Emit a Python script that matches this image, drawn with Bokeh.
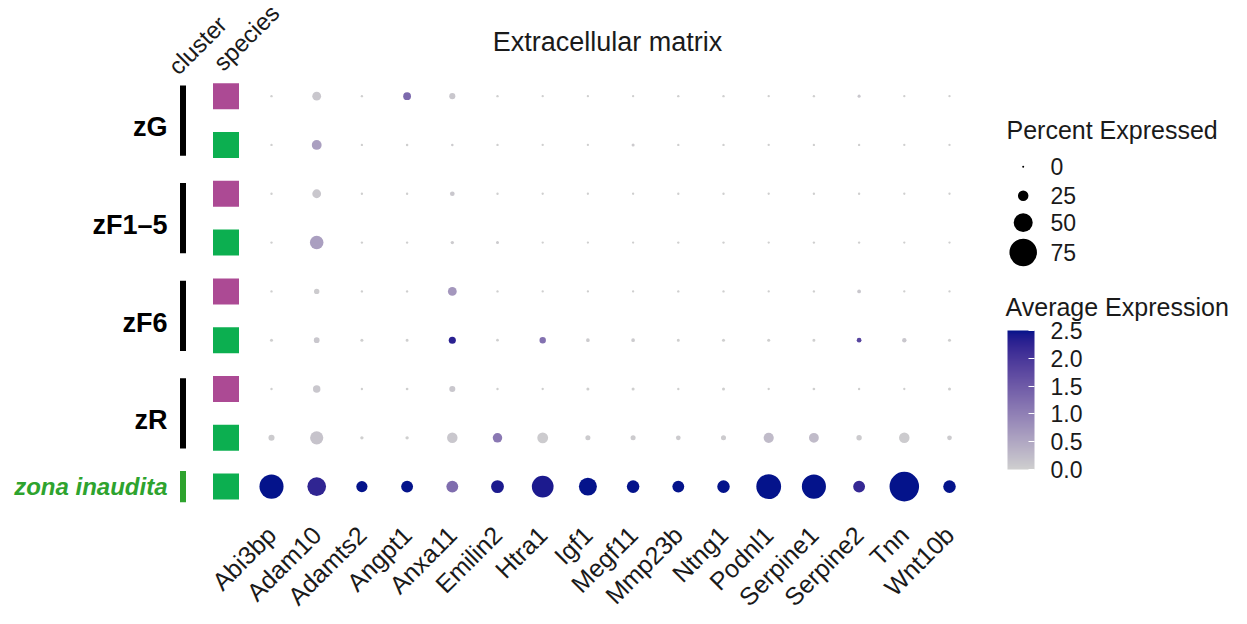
import math
from bokeh.plotting import figure
from bokeh.models import (Range1d, ColumnDataSource, LinearColorMapper, ColorBar,
                          FixedTicker, PrintfTickFormatter, LinearInterpolator)
from bokeh.core.properties import value
from bokeh.embed import file_html
from bokeh.resources import INLINE

# ---------------- data ----------------
genes = ["Abi3bp", "Adam10", "Adamts2", "Angpt1", "Anxa11", "Emilin2", "Htra1", "Igf1",
         "Megf11", "Mmp23b", "Ntng1", "Podnl1", "Serpine1", "Serpine2", "Tnn", "Wnt10b"]

# rows from top to bottom
row_cluster = ["zG", "zG", "zF1–5", "zF1–5", "zF6", "zF6", "zR", "zR", "zona inaudita"]
row_species = ["sp1", "sp2", "sp1", "sp2", "sp1", "sp2", "sp1", "sp2", "sp2"]
clusters = ["zG", "zF1–5", "zF6", "zR", "zona inaudita"]

# percent expressed, one list per row
pct_zG_sp1   = [1, 20, 1, 17, 12, 1, 1, 1, 1, 1, 1, 1, 1, 3, 1, 1]
pct_zG_sp2   = [1, 23, 1, 1.5, 1.5, 1, 1, 1, 3, 1, 1, 1, 1, 1, 1, 1]
pct_zF15_sp1 = [1, 20, 1, 1, 8, 1, 1, 1, 1, 1, 1, 1, 1, 1, 1, 1]
pct_zF15_sp2 = [1, 34, 1, 1, 4, 3, 1, 1, 1, 1, 1, 1, 1, 1, 1, 1]
pct_zF6_sp1  = [1, 10, 1, 1, 20, 1, 1, 1, 1, 1, 1, 1, 1, 5, 1, 1]
pct_zF6_sp2  = [3, 11, 3, 3, 15, 2, 13, 5, 5, 3, 3, 3, 3, 8, 7, 3]
pct_zR_sp1   = [1, 16, 1, 2, 12, 1, 1, 3, 3, 1, 3, 1, 2, 1, 1, 3]
pct_zR_sp2   = [12, 33, 4, 4, 25, 22, 26, 9, 9, 8, 9, 24, 23, 10, 25, 8]
pct_zi_sp2   = [65, 49, 27, 29, 29, 32, 58, 47, 31, 29, 31, 67, 65, 29, 81, 31]

# average expression (scaled, capped at 2.5), one list per row
avg_zG_sp1   = [0, 0.1, 0, 1.3, 0.1, 0, 0, 0, 0, 0, 0, 0, 0, 0.1, 0, 0]
avg_zG_sp2   = [0, 0.6, 0, 0, 0.05, 0, 0, 0, 0.05, 0, 0, 0, 0, 0, 0, 0]
avg_zF15_sp1 = [0, 0.1, 0, 0, 0.1, 0, 0, 0, 0, 0, 0, 0, 0, 0, 0, 0]
avg_zF15_sp2 = [0, 0.6, 0, 0, 0.05, 0.05, 0, 0, 0, 0, 0, 0, 0, 0, 0, 0]
avg_zF6_sp1  = [0, 0.05, 0, 0, 0.7, 0, 0, 0, 0, 0, 0, 0, 0, 0.1, 0, 0]
avg_zF6_sp2  = [0, 0.1, 0, 0, 2.3, 0, 1.2, 0.05, 0.05, 0, 0, 0, 0, 1.8, 0.1, 0]
avg_zR_sp1   = [0, 0.1, 0, 0, 0.1, 0, 0, 0, 0, 0, 0, 0, 0, 0, 0, 0]
avg_zR_sp2   = [0.05, 0.15, 0, 0, 0.1, 1.1, 0.05, 0.05, 0.05, 0.05, 0.05, 0.25, 0.25, 0.05, 0.05, 0.05]
avg_zi_sp2   = [2.5, 2.25, 2.5, 2.5, 1.25, 2.4, 2.4, 2.5, 2.5, 2.5, 2.5, 2.5, 2.5, 2.2, 2.5, 2.5]

pct_rows = [pct_zG_sp1, pct_zG_sp2, pct_zF15_sp1, pct_zF15_sp2, pct_zF6_sp1,
            pct_zF6_sp2, pct_zR_sp1, pct_zR_sp2, pct_zi_sp2]
avg_rows = [avg_zG_sp1, avg_zG_sp2, avg_zF15_sp1, avg_zF15_sp2, avg_zF6_sp1,
            avg_zF6_sp2, avg_zR_sp1, avg_zR_sp2, avg_zi_sp2]

legend_pct = [0, 25, 50, 75]
colorbar_ticks = [0.0, 0.5, 1.0, 1.5, 2.0, 2.5]

# ---------------- styles ----------------
FONT_NAME = "Liberation Sans"
FONT = value(FONT_NAME)
TXT = "#1a1a1a"
LOW_COL, HIGH_COL = "#CFCFCF", "#04138B"
species_colors = {"sp1": "#AC4A94", "sp2": "#0CAF50"}
ZI_GREEN = "#2EA32E"

# ---------------- colour scale (Lab interpolation, like ggplot) ----------------
def _hex_to_rgb(h):
    h = h.lstrip("#")
    return [int(h[i:i + 2], 16) / 255 for i in (0, 2, 4)]

def _lin(c):
    return c / 12.92 if c <= 0.04045 else ((c + 0.055) / 1.055) ** 2.4

def _unlin(c):
    c = max(0.0, min(1.0, c))
    return 12.92 * c if c <= 0.0031308 else 1.055 * c ** (1 / 2.4) - 0.055

WX, WY, WZ = 0.95047, 1.0, 1.08883

def _rgb_to_lab(rgb):
    r, g, b = [_lin(c) for c in rgb]
    X = 0.4124 * r + 0.3576 * g + 0.1805 * b
    Y = 0.2126 * r + 0.7152 * g + 0.0722 * b
    Z = 0.0193 * r + 0.1192 * g + 0.9505 * b
    def f(t):
        return t ** (1 / 3) if t > 0.008856 else 7.787 * t + 16 / 116
    fx, fy, fz = f(X / WX), f(Y / WY), f(Z / WZ)
    return [116 * fy - 16, 500 * (fx - fy), 200 * (fy - fz)]

def _lab_to_hex(lab):
    L, a, b = lab
    fy = (L + 16) / 116
    fx = fy + a / 500
    fz = fy - b / 200
    def finv(t):
        return t ** 3 if t ** 3 > 0.008856 else (t - 16 / 116) / 7.787
    X, Y, Z = WX * finv(fx), WY * finv(fy), WZ * finv(fz)
    r = 3.2406 * X - 1.5372 * Y - 0.4986 * Z
    g = -0.9689 * X + 1.8758 * Y + 0.0415 * Z
    bb = 0.0557 * X - 0.2040 * Y + 1.0570 * Z
    return "#" + "".join("%02x" % int(round(_unlin(c) * 255)) for c in (r, g, bb))

lab_lo, lab_hi = _rgb_to_lab(_hex_to_rgb(LOW_COL)), _rgb_to_lab(_hex_to_rgb(HIGH_COL))
palette = [_lab_to_hex([lo + (hi - lo) * i / 255 for lo, hi in zip(lab_lo, lab_hi)])
           for i in range(256)]
mapper = LinearColorMapper(palette=palette, low=0, high=2.5)
size_scale = LinearInterpolator(x=[0, 100], y=[2, 36])

# ---------------- geometry ----------------
W, H = 1247, 624
FRAME_H = 520
X0, DX = 271, 45.2     # px of first gene column, column spacing
Y0, DY = 96, 49        # px of top row, row spacing
NR = len(row_cluster)

def dx(px):
    return (px - X0) / DX

def dy(py):
    return (NR - 1) - (py - Y0) / DY

p = figure(width=W, height=H, output_backend="svg", toolbar_location=None,
           x_range=Range1d(dx(0), dx(W)), y_range=Range1d(dy(FRAME_H), dy(0)),
           y_axis_location=None, min_border_left=0, min_border_right=0,
           min_border_top=0, min_border_bottom=H - FRAME_H)
p.outline_line_color = None
p.xgrid.visible = False
p.ygrid.visible = False
p.background_fill_color = "white"

# ---------------- dots ----------------
xs, ys, pcts, avgs = [], [], [], []
for k in range(NR):
    for i, g in enumerate(genes):
        xs.append(i)
        ys.append(NR - 1 - k)
        pcts.append(pct_rows[k][i])
        avgs.append(avg_rows[k][i])
src = ColumnDataSource(dict(x=xs, y=ys, pct=pcts, avg=avgs))
p.scatter("x", "y", source=src, size={"field": "pct", "transform": size_scale},
          fill_color={"field": "avg", "transform": mapper}, line_color=None)

# ---------------- x axis ----------------
ax = p.xaxis[0]
ax.ticker = FixedTicker(ticks=list(range(len(genes))))
ax.major_label_overrides = {i: g for i, g in enumerate(genes)}
ax.major_label_orientation = math.pi / 4
ax.axis_line_color = None
ax.major_tick_line_color = None
ax.minor_tick_line_color = None
ax.major_label_standoff = 6
ax.major_label_text_font = FONT_NAME
ax.major_label_text_font_size = "25px"
ax.major_label_text_color = TXT

# ---------------- species squares ----------------
row_y = [NR - 1 - k for k in range(NR)]
p.scatter(x=[dx(225.5)] * NR, y=row_y, marker="square", size=26,
          fill_color=[species_colors[s] for s in row_species], line_color=None)

# ---------------- cluster bars & labels ----------------
bar_x, bar_y0, bar_y1, bar_col = [], [], [], []
lab_y = []
for c in clusters:
    yy = [row_y[k] for k in range(NR) if row_cluster[k] == c]
    ext = 0.22 if len(yy) > 1 else 0.32
    bar_x.append(dx(182.5))
    bar_y0.append(min(yy) - ext)
    bar_y1.append(max(yy) + ext)
    bar_col.append(ZI_GREEN if c == "zona inaudita" else "black")
    lab_y.append(sum(yy) / len(yy) - (0.14 if len(yy) > 1 else 0.0))
p.segment(x0=bar_x, y0=bar_y0, x1=bar_x, y1=bar_y1, line_width=6, line_color=bar_col)

p.text(x=[dx(167)] * 4, y=lab_y[:4], text=clusters[:4], text_align="right",
       text_baseline="middle", text_font=FONT, text_font_size="27px",
       text_font_style="bold", text_color="black")
p.text(x=[dx(167)], y=[lab_y[4]], text=[clusters[4]], text_align="right",
       text_baseline="middle", text_font=FONT, text_font_size="24px",
       text_font_style="bold italic", text_color=ZI_GREEN)

# column headers
p.text(x=[dx(172), dx(217)], y=[dy(70), dy(66)], text=["cluster", "species"],
       angle=math.pi / 4, text_align="left", text_baseline="alphabetic",
       text_font=FONT, text_font_size="24px", text_color=TXT)

# title
p.text(x=[dx(607)], y=[dy(42)], text=["Extracellular matrix"], text_align="center",
       text_baseline="middle", text_font=FONT, text_font_size="27px", text_color=TXT)

# ---------------- size legend ----------------
p.text(x=[dx(1006)], y=[dy(130)], text=["Percent Expressed"], text_align="left",
       text_baseline="middle", text_font=FONT, text_font_size="25px", text_color=TXT)
leg_py = [167, 196, 223, 253]
leg_src = ColumnDataSource(dict(x=[dx(1022.7)] * 4, y=[dy(v) for v in leg_py],
                                pct=legend_pct))
p.scatter("x", "y", source=leg_src, size={"field": "pct", "transform": size_scale},
          fill_color="black", line_color=None)
p.text(x=[dx(1050)] * 4, y=[dy(v) for v in leg_py], text=[str(v) for v in legend_pct],
       text_align="left", text_baseline="middle", text_font=FONT,
       text_font_size="23px", text_color=TXT)

# ---------------- colour legend ----------------
p.text(x=[dx(1005)], y=[dy(308)], text=["Average Expression"], text_align="left",
       text_baseline="middle", text_font=FONT, text_font_size="25px", text_color=TXT)
cb = ColorBar(color_mapper=mapper, ticker=FixedTicker(ticks=colorbar_ticks),
              formatter=PrintfTickFormatter(format="%.1f"),
              location=(1007, FRAME_H - 471), width=27, height=139,
              major_label_text_font=FONT_NAME, major_label_text_font_size="23px",
              major_label_text_color=TXT, label_standoff=16,
              major_tick_line_color="white", major_tick_in=6, major_tick_out=0,
              minor_tick_line_color=None, bar_line_color=None,
              border_line_color=None, background_fill_alpha=0, padding=0)
p.add_layout(cb)

open("out.html", "w").write(file_html(p, INLINE))
